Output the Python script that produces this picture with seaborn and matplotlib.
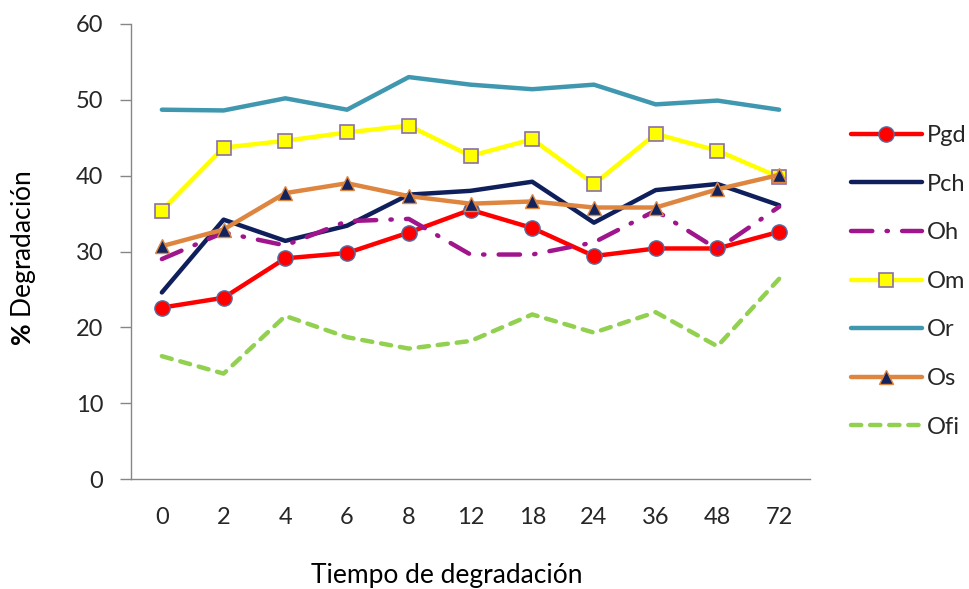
import matplotlib
matplotlib.use("Agg")
import matplotlib.pyplot as plt
import seaborn as sns
import pandas as pd
import numpy as np

tiempos = ["0", "2", "4", "6", "8", "12", "18", "24", "36", "48", "72"]
Pgd = [22.6, 23.9, 29.1, 29.8, 32.5, 35.5, 33.1, 29.4, 30.4, 30.4, 32.6]
Pch = [24.6, 34.2, 31.4, 33.4, 37.5, 38.0, 39.2, 33.8, 38.1, 38.9, 36.1]
Oh = [29.0, 32.5, 30.8, 34.0, 34.3, 29.6, 29.6, 31.2, 35.4, 30.3, 35.9]
Om = [35.4, 43.7, 44.6, 45.7, 46.6, 42.6, 44.8, 38.9, 45.5, 43.3, 39.8]
Or = [48.7, 48.6, 50.2, 48.7, 53.0, 52.0, 51.4, 52.0, 49.4, 49.9, 48.7]
Os = [30.7, 32.9, 37.7, 39.0, 37.3, 36.3, 36.6, 35.8, 35.8, 38.2, 40.1]
Ofi = [16.2, 13.9, 21.5, 18.7, 17.2, 18.2, 21.7, 19.3, 22.0, 17.5, 26.4]

series_names = ["Pgd", "Pch", "Oh", "Om", "Or", "Os", "Ofi"]
series_vals = [Pgd, Pch, Oh, Om, Or, Os, Ofi]

rows = []
for name, vals in zip(series_names, series_vals):
    for i, v in enumerate(vals):
        rows.append({"serie": name, "pos": i, "valor": v})
df = pd.DataFrame(rows)

sns.set_style("white")
plt.rcParams["font.family"] = ["Lato", "DejaVu Sans"]
plt.rcParams["mathtext.fontset"] = "custom"
plt.rcParams["mathtext.bf"] = "Lato:bold"
plt.rcParams["mathtext.rm"] = "Lato"

styles = {
    "Pgd": dict(color="#FF0000", lw=3.2, marker="o", ms=11, mfc="#FF0000", mec="#4F6FA8", mew=1.0, ls="-"),
    "Pch": dict(color="#0F1F5C", lw=3.2, marker=None, ls="-"),
    "Oh": dict(color="#A0148C", lw=3.2, marker=None, ls=(0, (4.8, 3.2, 0.3, 3.2))),
    "Om": dict(color="#FFFF00", lw=3.2, marker="s", ms=10.5, mfc="#FFFF00", mec="#8A6FA8", mew=1.2, ls="-"),
    "Or": dict(color="#3F97B0", lw=3.2, marker=None, ls="-"),
    "Os": dict(color="#DE8640", lw=3.2, marker="^", ms=10.5, mfc="#13235E", mec="#DE8640", mew=1.0, ls="-"),
    "Ofi": dict(color="#92D050", lw=3.2, marker=None, ls=(0, (2.3, 2.0))),
}

fig = plt.figure(figsize=(9.69, 5.89), dpi=100)
ax = fig.add_axes([131/969, 1-479/589, (810-131)/969, (479-24)/589])

handles = []
for name in series_names:
    st = styles[name]
    sub = df[df.serie == name]
    sns.lineplot(data=sub, x="pos", y="valor", ax=ax, color=st["color"], linewidth=st["lw"],
                 estimator=None, sort=False, legend=False)
    line = ax.lines[-1]
    line.set_linestyle(st["ls"])
    line.set_solid_capstyle("round")
    line.set_dash_capstyle("round")
    if st["marker"]:
        line.set_marker(st["marker"])
        line.set_markersize(st["ms"])
        line.set_markerfacecolor(st["mfc"])
        line.set_markeredgecolor(st["mec"])
        line.set_markeredgewidth(st["mew"])
    handles.append(line)

ax.set_xlim(-0.5, 10.5)
ax.set_ylim(0, 60)
ax.set_yticks(np.arange(0, 61, 10))
ax.set_xticks(range(len(tiempos)))
ax.set_xticklabels(tiempos)
ax.set_xticks(np.arange(-0.5, 10.6, 1), minor=True)
ax.tick_params(axis="x", which="major", length=0, pad=20, labelsize=17, labelcolor="#262626")
ax.tick_params(axis="x", which="minor", length=7, width=1, color="#868686", direction="out")
ax.tick_params(axis="y", which="major", length=8, width=1, color="#868686", direction="out",
               pad=12, labelsize=17, labelcolor="#262626", left=True)

for s in ["top", "right"]:
    ax.spines[s].set_visible(False)
for s in ["left", "bottom"]:
    ax.spines[s].set_color("#868686")
    ax.spines[s].set_linewidth(1.0)

ax.set_xlabel("Tiempo de degradación", fontsize=19, color="#000000")
ax.xaxis.set_label_coords((447-131)/(810-131), -(576-479)/(479-24))
ax.xaxis.label.set_verticalalignment("center")
ax.set_ylabel(r"$\mathbf{\%}$ Degradación", fontsize=19, color="#000000")
ax.yaxis.set_label_coords((24-131)/(810-131), (479-258)/(479-24))
ax.yaxis.label.set_verticalalignment("center")

leg = ax.legend(handles, series_names, loc="upper left",
                bbox_to_anchor=(851/969, 1-125/589), bbox_transform=fig.transFigure,
                frameon=False, fontsize=17, handlelength=3.0, handletextpad=0.2,
                labelspacing=1.17, borderaxespad=0, borderpad=0)

fig.savefig("out.png", dpi=100)
